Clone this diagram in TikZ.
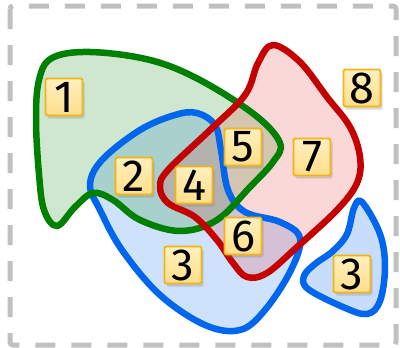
\documentclass[tikz,border=0pt]{standalone}
\usepackage{fontspec}
\setmainfont{Fira Sans}
\usetikzlibrary{shadows}
\definecolor{sgreen}{RGB}{0,128,0}
\definecolor{sblue}{RGB}{0,102,238}
\definecolor{sred}{RGB}{196,0,0}
\definecolor{fred}{RGB}{235,50,50}
\definecolor{lblborder}{RGB}{242,180,20}
\definecolor{lbltop}{RGB}{255,240,190}
\definecolor{lblbot}{RGB}{255,222,140}
\definecolor{frame}{RGB}{192,192,192}
\begin{document}
\begin{tikzpicture}[x=1pt,y=-1pt,
  lbl/.style={draw=lblborder, line width=1.8pt, top color=lbltop, bottom color=lblbot,
    minimum size=37pt, inner sep=0pt, rounded corners=1.5pt,
    font=\fontsize{45}{45}\selectfont,
    drop shadow={shadow xshift=2pt, shadow yshift=-3pt, opacity=0.3}},
  setline/.style={line width=6.5pt, line join=round},
  setfill/.style={fill opacity=0.19}]
\useasboundingbox (0,0) rectangle (400,348);
\draw[frame, line width=5pt, dash pattern=on 20pt off 16pt, rounded corners=3pt] (10,6) rectangle (396,345);
% fills
\fill[sblue, setfill] plot[smooth cycle, tension=0.6] coordinates {(197,113) (215,125) (221,150) (228,190) (245,212) (280,222) (300,238) (291,270) (265,310) (240,330) (205,325) (160,295) (122,250) (100,210) (90,185) (102,160) (140,130) (175,115)};
\fill[sgreen, setfill] plot[smooth cycle, tension=0.6] coordinates {(57,226) (44,210) (39,174) (36,120) (39,80) (52,58) (90,52) (150,60) (200,80) (255,115) (280,143) (273,162) (250,187) (217,220) (180,231) (140,220) (113,200) (93,193) (75,207)};
\fill[fred, setfill] plot[smooth cycle, tension=0.6] coordinates {(273,45) (300,62) (327,97) (350,127) (360,157) (357,183) (337,210) (297,247) (267,273) (247,277) (233,263) (217,240) (195,217) (168,203) (160,187) (168,170) (210,130) (245,95) (258,63)};
\fill[sblue, fill opacity=0.22] plot[smooth cycle, tension=0.6] coordinates {(362,202) (380,234) (385,267) (380,301) (367,314) (343,307) (308,289) (304,276) (315,264) (333,251) (347,234) (354,208)};
% strokes
\draw[sblue, setline] plot[smooth cycle, tension=0.6] coordinates {(197,113) (215,125) (221,150) (228,190) (245,212) (280,222) (300,238) (291,270) (265,310) (240,330) (205,325) (160,295) (122,250) (100,210) (90,185) (102,160) (140,130) (175,115)};
\draw[sblue, setline] plot[smooth cycle, tension=0.6] coordinates {(362,202) (380,234) (385,267) (380,301) (367,314) (343,307) (308,289) (304,276) (315,264) (333,251) (347,234) (354,208)};
\draw[sgreen, setline] plot[smooth cycle, tension=0.6] coordinates {(57,226) (44,210) (39,174) (36,120) (39,80) (52,58) (90,52) (150,60) (200,80) (255,115) (280,143) (273,162) (250,187) (217,220) (180,231) (140,220) (113,200) (93,193) (75,207)};
\draw[sred, setline] plot[smooth cycle, tension=0.6] coordinates {(273,45) (300,62) (327,97) (350,127) (360,157) (357,183) (337,210) (297,247) (267,273) (247,277) (233,263) (217,240) (195,217) (168,203) (160,187) (168,170) (210,130) (245,95) (258,63)};
% labels
\node[lbl] (l1) at (64,97) {1};
\node[lbl] (l2) at (134,176) {2};
\node[lbl] (l4) at (194,185) {4};
\node[lbl] (l5) at (243,147) {5};
\node[lbl] (l6) at (243,236) {6};
\node[lbl] (l7) at (312,157) {7};
\node[lbl] (l8) at (362,88) {8};
\node[lbl] (l3a) at (183,265) {3};
\node[lbl] (l3b) at (352,274) {3};
\end{tikzpicture}
\end{document}
